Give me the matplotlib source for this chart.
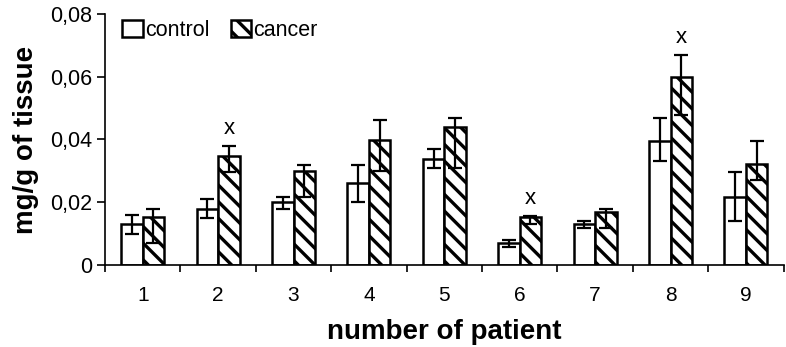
import matplotlib
matplotlib.use("Agg")
import matplotlib.pyplot as plt
import numpy as np
from matplotlib.ticker import FuncFormatter, FixedLocator

plt.rcParams['font.family'] = ['Liberation Sans', 'DejaVu Sans']
plt.rcParams['hatch.linewidth'] = 2.4

patients = ['1', '2', '3', '4', '5', '6', '7', '8', '9']
control = [0.0131, 0.0178, 0.0202, 0.0261, 0.0337, 0.0069, 0.0130, 0.0396, 0.0217]
control_lo = [0.0100, 0.0150, 0.0178, 0.0201, 0.0308, 0.0058, 0.0117, 0.0330, 0.0140]
control_hi = [0.0160, 0.0210, 0.0217, 0.0320, 0.0370, 0.0080, 0.0140, 0.0468, 0.0297]
cancer = [0.0152, 0.0348, 0.0299, 0.0397, 0.0441, 0.0152, 0.0168, 0.0599, 0.0321]
cancer_lo = [0.0070, 0.0297, 0.0216, 0.0299, 0.0308, 0.0130, 0.0119, 0.0478, 0.0271]
cancer_hi = [0.0177, 0.0380, 0.0320, 0.0462, 0.0468, 0.0156, 0.0178, 0.0669, 0.0396]
significant = [2, 6, 8]

x = np.arange(1, len(patients) + 1)
w = 0.285
control = np.array(control)
cancer = np.array(cancer)
c_err = [control - np.array(control_lo), np.array(control_hi) - control]
k_err = [cancer - np.array(cancer_lo), np.array(cancer_hi) - cancer]

fig = plt.figure(figsize=(7.86, 3.47), dpi=100)
ax = fig.add_axes([0.1336, 0.2363, 0.8634, 0.7234])

ax.bar(x - w / 2, control, w, color='white', edgecolor='black', linewidth=1.8, label='control')
ax.bar(x + w / 2, cancer, w, color='white', edgecolor='black', linewidth=1.8, hatch='\\\\', label='cancer')
ax.errorbar(x - w / 2, control, yerr=c_err, fmt='none', ecolor='black', elinewidth=1.6, capsize=5, capthick=1.6)
ax.errorbar(x + w / 2, cancer, yerr=k_err, fmt='none', ecolor='black', elinewidth=1.6, capsize=5, capthick=1.6)

for p in significant:
    i = p - 1
    ax.text(x[i] + w / 2, cancer_hi[i] + 0.0022, 'x', ha='center', va='bottom', fontsize=16)

ax.set_xlim(0.5, len(patients) + 0.5)
ax.set_ylim(0, 0.08)
ax.set_yticks([0, 0.02, 0.04, 0.06, 0.08])
ax.yaxis.set_major_formatter(FuncFormatter(lambda v, pos: '0' if v == 0 else ('%.2f' % v).replace('.', ',')))
ax.set_xticks(x)
ax.set_xticklabels(patients)
ax.xaxis.set_minor_locator(FixedLocator(np.arange(0.5, len(patients) + 1, 1)))
ax.tick_params(axis='x', which='major', length=0, labelsize=15, pad=15)
ax.tick_params(axis='x', which='minor', length=5, width=1.2)
ax.tick_params(axis='y', length=6, width=1.2, labelsize=15.5, pad=3)

for s in ['top', 'right']:
    ax.spines[s].set_visible(False)
for s in ['left', 'bottom']:
    ax.spines[s].set_linewidth(1.2)

ax.set_xlabel('number of patient', fontsize=20, fontweight='bold', labelpad=10)
ax.set_ylabel('mg/g of tissue', fontsize=20, fontweight='bold', labelpad=8)

ax.legend(loc='upper left', bbox_to_anchor=(-0.003, 1.055), ncol=2, frameon=False, fontsize=15.5,
          handlelength=0.95, handleheight=0.85, handletextpad=0.1, columnspacing=1.0)

fig.savefig('out.png', dpi=100)
